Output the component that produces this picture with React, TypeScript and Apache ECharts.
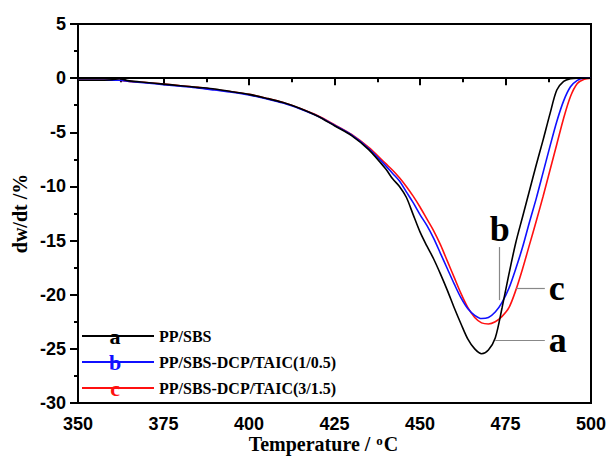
import React, { useEffect, useRef } from "react";
import * as echarts from "echarts";

const temps = [350, 355, 360, 362, 365, 370, 375, 380, 385, 390, 395, 400, 405, 410, 415, 420, 425, 430, 435, 440, 442, 444, 446, 448, 450, 452, 454, 456, 458, 460, 462, 464, 466, 468, 470, 472, 474, 476, 478, 480, 482, 484, 486, 488, 490, 492, 494, 496, 498, 500];

const seriesA = [-0.2, -0.2, -0.15, -0.05, -0.25, -0.4, -0.55, -0.7, -0.85, -1.0, -1.25, -1.5, -1.85, -2.25, -2.8, -3.5, -4.4, -5.3, -6.6, -8.4, -9.3, -10.0, -11.0, -12.6, -14.2, -15.5, -16.7, -18.1, -19.6, -21.2, -22.7, -24.1, -25.0, -25.45, -25.1, -24.0, -21.2, -18.1, -15.2, -12.8, -10.4, -8.0, -5.7, -3.3, -1.1, -0.3, -0.05, 0, 0, 0];

const seriesB = [-0.2, -0.2, -0.2, -0.2, -0.3, -0.45, -0.6, -0.75, -0.9, -1.1, -1.3, -1.55, -1.9, -2.3, -2.85, -3.5, -4.35, -5.25, -6.5, -8.1, -8.8, -9.5, -10.5, -11.5, -12.6, -13.6, -14.8, -16.2, -17.6, -19.0, -20.3, -21.3, -21.9, -22.2, -22.1, -21.6, -20.7, -19.4, -17.6, -15.6, -13.3, -11.1, -8.7, -6.3, -4.0, -2.1, -0.8, -0.2, 0, 0];

const seriesC = [-0.2, -0.2, -0.2, -0.2, -0.3, -0.4, -0.55, -0.7, -0.85, -1.05, -1.25, -1.5, -1.85, -2.25, -2.8, -3.45, -4.3, -5.2, -6.4, -7.9, -8.5, -9.2, -10.0, -10.9, -11.9, -13.0, -14.1, -15.4, -16.9, -18.4, -19.9, -21.2, -22.1, -22.6, -22.7, -22.5, -22.0, -21.2, -19.6, -17.6, -15.4, -13.2, -10.9, -8.5, -6.1, -3.7, -1.7, -0.5, -0.1, 0];

const seriesNames = ["PP/SBS", "PP/SBS-DCP/TAIC(1/0.5)", "PP/SBS-DCP/TAIC(3/1.5)"];
const seriesLetters = ["a", "b", "c"];
const seriesColors = ["#000000", "#1010ff", "#ff1010"];

// annotation leader lines (data coords)
const leaderA = [[472, -24.2], [486.5, -24.2]];
const leaderB = [[473.3, -20.5], [473.3, -15.6]];
const leaderC = [[478.1, -19.4], [486.5, -19.4]];

const serif = '"Liberation Serif", "Times New Roman", serif';
const sans = '"Liberation Sans", Arial, sans-serif';

export default function App() {
  const ref = useRef<HTMLDivElement>(null);
  useEffect(() => {
    if (!ref.current) return;
    const chart = echarts.init(ref.current, null, { renderer: "svg" });
    const all = [seriesA, seriesB, seriesC];
    const leaders = [leaderA, leaderB, leaderC];
    const legendTop = 327;
    const rowH = 18;
    const gap = 8;
    const option: any = {
      animation: false,
      backgroundColor: "#ffffff",
      grid: {
        left: 78, right: 19, top: 24, bottom: 54,
        outerBoundsMode: "none",
        containLabel: false,
        show: true, borderColor: "#000", borderWidth: 2, backgroundColor: "transparent",
      },
      legend: {
        orient: "vertical",
        left: 82,
        top: legendTop,
        padding: 0,
        itemWidth: 72,
        itemHeight: 2,
        itemGap: gap,
        icon: "path://M0,0L72,0L72,2L0,2Z",
        textStyle: { fontFamily: serif, fontWeight: "bold", fontSize: 16, color: "#000", lineHeight: rowH },
        data: seriesNames,
      },
      xAxis: {
        type: "value",
        min: 350,
        max: 500,
        interval: 25,
        name: "{t|Temperature / }{s|o}{t|C}",
        nameLocation: "middle",
        nameGap: 31,
        nameMoveOverlap: false,
        nameTextStyle: {
          padding: [0, 22, 0, 0],
          rich: {
            t: { fontFamily: serif, fontWeight: "bold", fontSize: 20, color: "#000", lineHeight: 20 },
            s: { fontFamily: serif, fontWeight: "bold", fontSize: 13, color: "#000", verticalAlign: "top", padding: [0, 1, 6, 1] },
          },
        },
        axisLine: { lineStyle: { color: "#000", width: 2 } },
        axisTick: { show: true, inside: false, length: 7, lineStyle: { color: "#000", width: 2 } },
        minorTick: { show: true, splitNumber: 2, length: 4, lineStyle: { color: "#000", width: 2 } },
        axisLabel: { fontFamily: sans, fontWeight: "bold", fontSize: 18, color: "#000", margin: 12 },
        splitLine: { show: false },
      },
      yAxis: {
        type: "value",
        min: -30,
        max: 5,
        interval: 5,
        name: "dw/dt /%",
        nameLocation: "middle",
        nameGap: 48,
        nameMoveOverlap: false,
        nameTextStyle: { fontFamily: serif, fontWeight: "bold", fontSize: 20, color: "#000" },
        axisLine: { lineStyle: { color: "#000", width: 2 } },
        axisTick: { show: true, inside: false, length: 8, lineStyle: { color: "#000", width: 2 } },
        minorTick: { show: true, splitNumber: 2, length: 4, lineStyle: { color: "#000", width: 2 } },
        axisLabel: { fontFamily: sans, fontWeight: "bold", fontSize: 18, color: "#000", margin: 12 },
        splitLine: { show: false },
      },
      series: all.map((vals, i) => ({
        name: seriesNames[i],
        type: "line",
        data: temps.map((t, j) => [t, vals[j]]),
        smooth: 0.3,
        showSymbol: false,
        symbol: "none",
        lineStyle: { color: seriesColors[i], width: 1.6 },
        itemStyle: { color: seriesColors[i] },
        z: 3 - i,
        markLine: {
          silent: true,
          symbol: ["none", "none"],
          lineStyle: { color: "#888", width: 1.2, type: "solid" },
          label: {
            show: true,
            position: "end",
            formatter: seriesLetters[i],
            fontFamily: serif,
            fontWeight: "bold",
            fontSize: 36,
            color: "#000",
            distance: i === 1 ? 0 : 4,
          },
          data: [[{ coord: leaders[i][0] }, { coord: leaders[i][1] }]],
        },
      })),
      graphic: seriesLetters.map((l, i) => ({
        type: "text",
        x: 115,
        y: legendTop + 8 + i * (rowH + gap) + 1,
        z: 100,
        style: {
          text: l,
          fill: seriesColors[i],
          font: `bold 22px ${serif}`,
          align: "center",
          verticalAlign: "middle",
        },
      })),
    };
    chart.setOption(option);
    return () => chart.dispose();
  }, []);
  return <div ref={ref} style={{ position: "fixed", left: 0, top: 0, width: 610, height: 457 }} />;
}
